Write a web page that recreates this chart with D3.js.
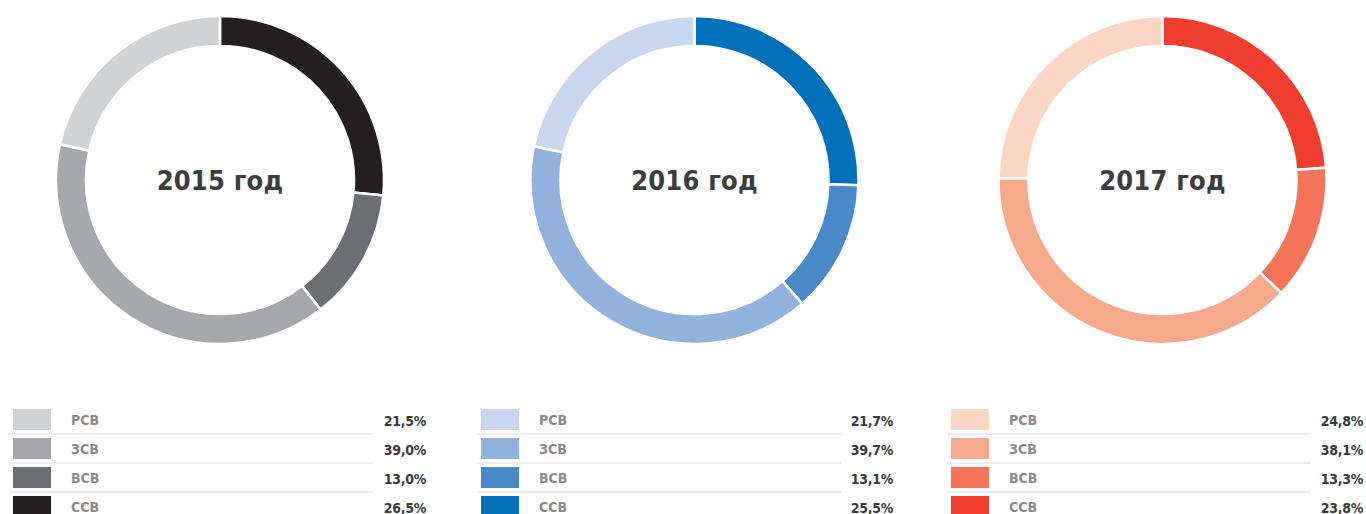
<!DOCTYPE html>
<html>
<head>
<meta charset="utf-8">
<script src="https://cdn.jsdelivr.net/npm/d3@7"></script>
<style>
  body { margin: 0; background: #fff; }
  svg { display: block; font-family: "DejaVu Sans Condensed", "DejaVu Sans", sans-serif; }
</style>
</head>
<body>
<svg width="1366" height="514"></svg>
<script>
const categories = ["РСВ", "ЗСВ", "ВСВ", "ССВ"]
const years = ["2015 год", "2016 год", "2017 год"]
const values2015 = [21.5, 39.0, 13.0, 26.5]
const values2016 = [21.7, 39.7, 13.1, 25.5]
const values2017 = [24.8, 38.1, 13.3, 23.8]
const colors2015 = ["#d1d2d4", "#a7a8ab", "#6d6e71", "#231f20"]
const colors2016 = ["#c8d7ed", "#91b2dc", "#4a89c8", "#0070ba"]
const colors2017 = ["#fbd6c5", "#f7a98c", "#f37458", "#ef3e2f"]

const panels = [
  { year: years[0], values: values2015, colors: colors2015, cx: 220, left: 13, right: 426 },
  { year: years[1], values: values2016, colors: colors2016, cx: 694.5, left: 481, right: 893 },
  { year: years[2], values: values2017, colors: colors2017, cx: 1162.5, left: 951, right: 1363 }
]

const svg = d3.select('svg')
const cy = 180
const outerR = 164
const innerR = 134

const fmt = v => d3.format(".1f")(v).replace(".", ",") + "%"

// pie starts at 12 o'clock with ССВ and goes clockwise, so feed it reversed
const pie = d3.pie().sort(null).value(d => d.value)
const arc = d3.arc().innerRadius(innerR).outerRadius(outerR)

const rowY = d3.scaleBand().domain(categories).range([409, 525]).paddingInner(0)

panels.forEach(p => {
  const data = categories.map((c, i) => ({ cat: c, value: p.values[i], color: p.colors[i] }))
  const g = svg.append('g').attr('transform', `translate(${p.cx}, ${cy})`)

  g.selectAll('path')
    .data(pie(data.slice().reverse()))
    .join('path')
    .attr('d', arc)
    .attr('fill', d => d.data.color)
    .attr('stroke', '#fff')
    .attr('stroke-width', 2.5)

  g.append('text')
    .attr('text-anchor', 'middle')
    .attr('dy', '0.36em')
    .attr('font-size', 27)
    .attr('font-weight', 'bold')
    .attr('letter-spacing', 0.2)
    .attr('fill', '#3d3d3f')
    .text(p.year)

  const leg = svg.append('g')
  const rows = leg.selectAll('g')
    .data(data)
    .join('g')
    .attr('transform', d => `translate(0, ${rowY(d.cat)})`)

  rows.append('rect')
    .attr('x', p.left)
    .attr('width', 38)
    .attr('height', 21)
    .attr('fill', d => d.color)

  rows.append('text')
    .attr('x', p.left + 58)
    .attr('y', 15.5)
    .attr('font-size', 14)
    .attr('font-weight', 'bold')
    .attr('fill', '#8a8a8d')
    .text(d => d.cat)

  rows.append('text')
    .attr('x', p.right)
    .attr('y', 16.5)
    .attr('text-anchor', 'end')
    .attr('font-size', 14)
    .attr('font-weight', 'bold')
    .attr('letter-spacing', -0.3)
    .attr('fill', '#3a3a3c')
    .text(d => fmt(d.value))

  rows.filter((d, i) => i < 3).append('line')
    .attr('x1', p.left - 4)
    .attr('x2', p.left + 360)
    .attr('y1', 25)
    .attr('y2', 25)
    .attr('stroke', '#dcdcdd')
    .attr('stroke-width', 1.2)
})
</script>
</body>
</html>
